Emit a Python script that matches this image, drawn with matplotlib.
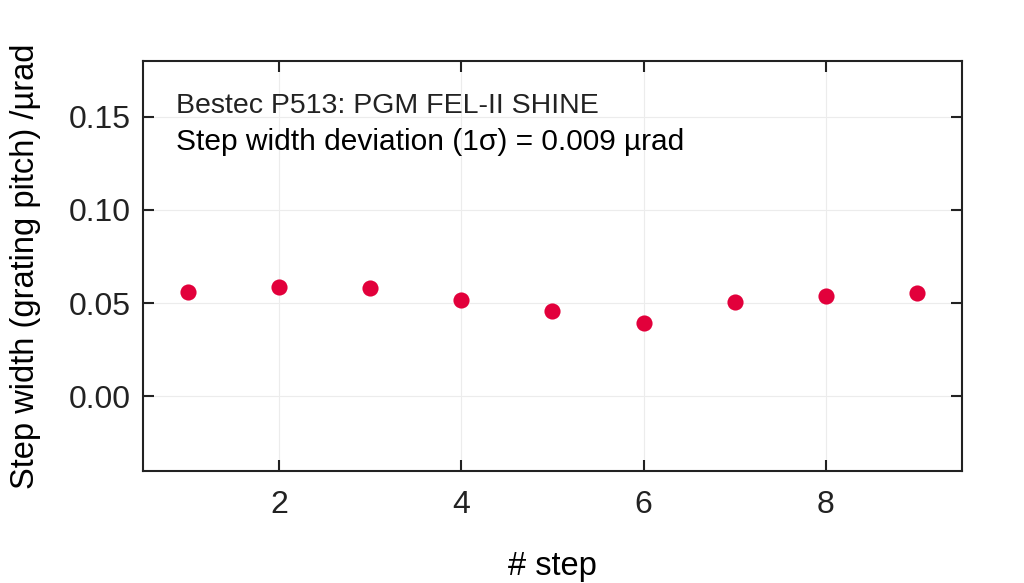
import matplotlib
matplotlib.use("Agg")
import matplotlib.pyplot as plt

plt.rcParams["font.family"] = ["Liberation Sans", "DejaVu Sans"]

steps = [1, 2, 3, 4, 5, 6, 7, 8, 9]
width = [0.0561, 0.0584, 0.0579, 0.0518, 0.0459, 0.0392, 0.0505, 0.0536, 0.0555]

xticks = [2, 4, 6, 8]
yticks = [0.00, 0.05, 0.10, 0.15]
ytick_labels = ["0.00", "0.05", "0.10", "0.15"]

fig = plt.figure(figsize=(10.24, 5.83), dpi=100)
ax = fig.add_axes([0.1396, 0.1926, 0.7999, 0.7028])

ax.scatter(steps, width, s=135, color="#E2003B", zorder=3, linewidths=0)

ax.set_xlim(0.5, 9.5)
ax.set_ylim(-0.04, 0.18)
ax.set_xticks(xticks)
ax.set_yticks(yticks)
ax.set_yticklabels(ytick_labels)
ax.grid(True, color="#ececec", linewidth=0.8)
ax.set_axisbelow(True)

ax.tick_params(direction="in", length=8, width=1.5, labelsize=23,
               top=True, right=True, colors="#222222")
ax.tick_params(axis="x", pad=14)
ax.tick_params(axis="y", pad=9)
for sp in ax.spines.values():
    sp.set_linewidth(1.5)
    sp.set_color("#222222")

ax.set_xlabel("# step", fontsize=23.5, labelpad=22)
ax.set_ylabel("Step width (grating pitch) /µrad", fontsize=23.5, labelpad=20)

ax.text(0.04, 0.873, "Bestec P513: PGM FEL-II SHINE", transform=ax.transAxes,
        fontsize=20.5, color="#222222", va="baseline")
ax.text(0.04, 0.783, "Step width deviation (1σ) = 0.009 µrad", transform=ax.transAxes,
        fontsize=21.5, color="black", va="baseline")

fig.savefig("out.png", dpi=100)
